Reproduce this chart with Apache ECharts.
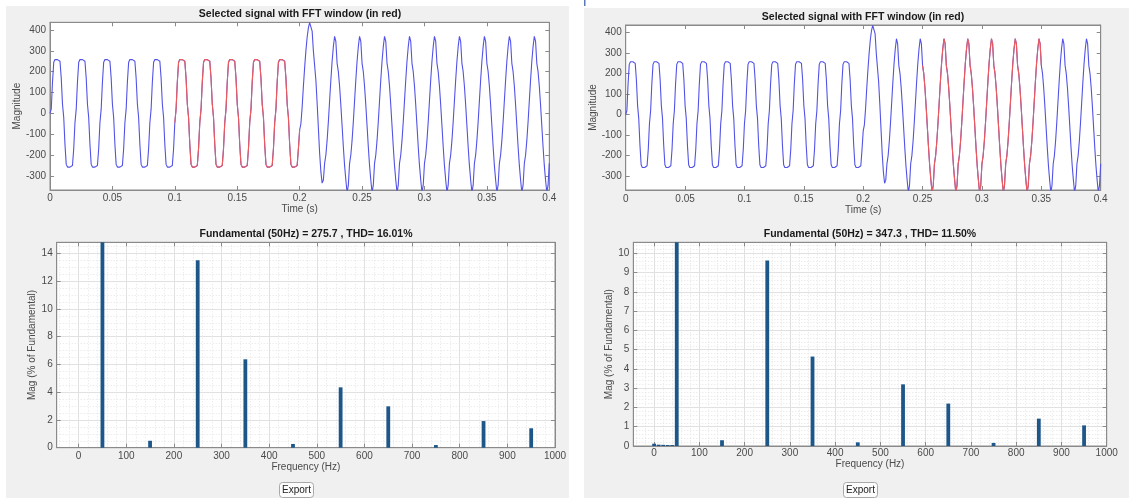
<!DOCTYPE html>
<html>
<head>
<meta charset="utf-8">
<script src="https://cdn.jsdelivr.net/npm/echarts@6/dist/echarts.min.js"></script>
<style>
html, body { margin: 0; padding: 0; background: #fff; }
#chart { width: 1129px; height: 498px; }
</style>
</head>
<body>
<div id="chart"></div>
<script>
// one period of each part of the signal, one sample per ms
const sampleStep = 0.001
const startValue = 0
const cycleBefore = [-45, 20, 150, 245, 258, 256, 258, 256, 250, 170, 45, -20, -150, -245, -258, -256, -258, -256, -250, -170]
const transientPart = [-80, -50, 30, 130, 220, 300, 365, 410, 435, 437, 395, 300, 230, 160, 50, -70, -190, -280, -335, -320]
const cycleAfter = [-240, -200, -130, -40, 60, 160, 250, 320, 370, 345, 240, 200, 130, 40, -60, -160, -250, -320, -380, -345]
const cyclesBefore = 10
const cyclesAfter = 9
const windowLeft = [0.1, 0.2]
const windowRight = [0.25, 0.35]

const timeTicks = [0, 0.05, 0.1, 0.15, 0.2, 0.25, 0.3, 0.35, 0.4]
const signalTicks = [-300, -200, -100, 0, 100, 200, 300, 400]

// harmonic spectrum, % of fundamental
const harmonicFreqs = [50, 150, 250, 350, 450, 550, 650, 750, 850, 950]
const magLeft = [100, 0.5, 13.5, 6.37, 0.27, 4.35, 2.98, 0.19, 1.92, 1.4]
const magRight = [100, 0.3, 9.62, 4.64, 0.19, 3.2, 2.2, 0.16, 1.42, 1.07]
const lowFreqsRight = [0, 10, 20, 30, 40]
const lowMagRight = [0.12, 0.07, 0.06, 0.05, 0.05]
const freqTicks = [0, 100, 200, 300, 400, 500, 600, 700, 800, 900, 1000]
const pctTicksLeft = [0, 2, 4, 6, 8, 10, 12, 14]
const pctTicksRight = [0, 1, 2, 3, 4, 5, 6, 7, 8, 9, 10]

const signalTitle = 'Selected signal with FFT window (in red)'
const fftTitleLeft = 'Fundamental (50Hz) = 275.7 , THD= 16.01%'
const fftTitleRight = 'Fundamental (50Hz) = 347.3 , THD= 11.50%'

const axisGray = '#8a8a8a'
const labelGray = '#4a4a4a'
const font = 'Liberation Sans, Arial, Helvetica, sans-serif'
const blue = '#5252e6'
const red = '#f05a5a'
const barColor = '#1d5789'

// build the time signal from the periods
let samples = [startValue].concat(cycleBefore.slice(1))
for (let c = 1; c < cyclesBefore; c++) samples = samples.concat(cycleBefore)
samples = samples.concat(transientPart)
for (let c = 0; c < cyclesAfter; c++) samples = samples.concat(cycleAfter)
samples.push(cycleAfter[0])
const signal = samples.map((v, i) => [+(i * sampleStep).toFixed(3), v])
const inWindow = w => signal.filter(p => p[0] >= w[0] - 1e-9 && p[0] <= w[1] + 1e-9)

const pairs = (xs, ys) => xs.map((x, i) => [x, ys[i]])

// minor grid positions between major ticks
function minorValues(from, to, step, major) {
  const out = []
  for (let v = from; v <= to + 1e-9; v += step) {
    const r = +v.toFixed(4)
    if (Math.abs(r / major - Math.round(r / major)) > 1e-6) out.push(r)
  }
  return out
}

const grids = [
  { left: 50, top: 22.3, width: 499.3, height: 167.7 },
  { left: 625.7, top: 25, width: 475, height: 165 },
  { left: 56.7, top: 242.3, width: 498.3, height: 205.4 },
  { left: 633.3, top: 242.3, width: 473.4, height: 203.7 }
].map(g => Object.assign(g, {
  show: true, backgroundColor: '#fff', borderColor: axisGray, borderWidth: 1,
  containLabel: false, outerBoundsMode: 'none'
}))

const xAxes = []
const yAxes = []
const plain = v => String(v)

function addAxes(g, x, y) {
  const tick = vals => ({ show: true, inside: true, length: 4, customValues: vals, lineStyle: { color: axisGray } })
  const line = { show: true, onZero: false, lineStyle: { color: axisGray } }
  const nameStyle = { color: labelGray, fontSize: 10, fontFamily: font }
  const xi = xAxes.length
  xAxes.push({
    gridIndex: g, type: 'value', position: 'bottom', min: x.min, max: x.max,
    axisLine: line, axisTick: tick(x.ticks),
    axisLabel: { customValues: x.ticks, formatter: plain, color: labelGray, fontSize: 10, fontFamily: font, margin: x.margin },
    splitLine: { show: !!x.grid, lineStyle: { color: '#e1e1e1', width: 1 } },
    name: x.name, nameLocation: 'middle', nameGap: x.nameGap, nameTextStyle: nameStyle
  })
  xAxes.push({
    gridIndex: g, type: 'value', position: 'top', min: x.min, max: x.max,
    axisLine: line, axisTick: tick(x.ticks), axisLabel: { show: false }, splitLine: { show: false }
  })
  if (x.grid) {
    xAxes.push({
      gridIndex: g, type: 'value', position: 'bottom', min: x.min, max: x.max,
      axisLine: { show: false }, axisTick: { show: false, customValues: x.minor },
      axisLabel: { show: false },
      splitLine: { show: true, lineStyle: { color: '#e4e4e4', type: [1, 2], width: 1 } }
    })
  }
  const yi = yAxes.length
  yAxes.push({
    gridIndex: g, type: 'value', position: 'left', min: y.min, max: y.max,
    axisLine: line, axisTick: tick(y.ticks),
    axisLabel: { customValues: y.ticks, formatter: plain, color: labelGray, fontSize: 10, fontFamily: font, margin: 4 },
    splitLine: { show: !!y.grid, lineStyle: { color: '#e1e1e1', width: 1 } },
    name: y.name, nameLocation: 'middle', nameGap: y.nameGap, nameTextStyle: nameStyle
  })
  yAxes.push({
    gridIndex: g, type: 'value', position: 'right', min: y.min, max: y.max,
    axisLine: line, axisTick: tick(y.ticks), axisLabel: { show: false }, splitLine: { show: false }
  })
  if (y.grid) {
    yAxes.push({
      gridIndex: g, type: 'value', position: 'left', min: y.min, max: y.max,
      axisLine: { show: false }, axisTick: { show: false, customValues: y.minor },
      axisLabel: { show: false },
      splitLine: { show: true, lineStyle: { color: '#e4e4e4', type: [1, 2], width: 1 } }
    })
  }
  return [xi, yi]
}

const sigX = { min: 0, max: 0.4, ticks: timeTicks, name: 'Time (s)' }
const sigY = { min: -368, max: 437, ticks: signalTicks, name: 'Magnitude' }
const fftX = { min: -46, max: 1000, ticks: freqTicks, name: 'Frequency (Hz)', grid: true, minor: minorValues(-40, 980, 20, 100) }

const a0 = addAxes(0, Object.assign({}, sigX, { margin: 3, nameGap: 13 }), Object.assign({}, sigY, { nameGap: 28 }))
const a1 = addAxes(1, Object.assign({}, sigX, { margin: 4, nameGap: 14 }), Object.assign({}, sigY, { nameGap: 26 }))
const a2 = addAxes(2, Object.assign({}, fftX, { margin: 4, nameGap: 14 }),
  { min: 0, max: 14.8, ticks: pctTicksLeft, name: 'Mag (% of Fundamental)', nameGap: 19, grid: true, minor: minorValues(0.5, 14.5, 0.5, 2) })
const a3 = addAxes(3, Object.assign({}, fftX, { margin: 2, nameGap: 13 }),
  { min: 0, max: 10.57, ticks: pctTicksRight, name: 'Mag (% of Fundamental)', nameGap: 18, grid: true, minor: minorValues(0.2, 10.4, 0.2, 1) })

const lineSeries = (axes, data, color) => ({
  type: 'line', xAxisIndex: axes[0], yAxisIndex: axes[1], data: data,
  showSymbol: false, symbol: 'none', clip: true,
  lineStyle: { color: color, width: 1.1 }, z: 3
})
const barSeries = (axes, data) => ({
  type: 'bar', xAxisIndex: axes[0], yAxisIndex: axes[1], data: data,
  barWidth: 3.8, clip: true, itemStyle: { color: barColor }, z: 3
})

const titleStyle = { fontSize: 10.5, fontWeight: 'bold', color: '#1a1a1a', fontFamily: font }
const title = [
  { text: signalTitle, left: 300, top: 9, textAlign: 'center', padding: 0, textStyle: titleStyle },
  { text: signalTitle, left: 863, top: 12, textAlign: 'center', padding: 0, textStyle: titleStyle },
  { text: fftTitleLeft, left: 306, top: 229, textAlign: 'center', padding: 0, textStyle: titleStyle },
  { text: fftTitleRight, left: 870, top: 229, textAlign: 'center', padding: 0, textStyle: titleStyle }
]

function exportButton(cx) {
  return {
    type: 'group', left: cx - 17, top: 482, z: 100,
    children: [
      { type: 'rect', shape: { x: 0, y: 0, width: 34, height: 15, r: 3 }, style: { fill: '#fcfcfc', stroke: '#a8a8a8', lineWidth: 1 } },
      { type: 'text', x: 17, y: 7.5, style: { text: 'Export', fill: '#222', font: '10px ' + font, align: 'center', verticalAlign: 'middle' } }
    ]
  }
}

const chart = echarts.init(document.getElementById('chart'), null, { renderer: 'canvas' })
chart.setOption({
  animation: false,
  backgroundColor: '#ffffff',
  title: title,
  grid: grids,
  xAxis: xAxes,
  yAxis: yAxes,
  graphic: [
    { type: 'rect', z: -100, shape: { x: 6, y: 6, width: 563, height: 492 }, style: { fill: '#f0f0f0' } },
    { type: 'rect', z: -100, shape: { x: 584, y: 8, width: 545, height: 490 }, style: { fill: '#f0f0f0' } },
    { type: 'rect', z: -99, shape: { x: 584, y: 0, width: 1.5, height: 6 }, style: { fill: '#5b78b8' } },
    exportButton(296),
    exportButton(860)
  ],
  series: [
    lineSeries(a0, signal, blue),
    lineSeries(a0, inWindow(windowLeft), red),
    lineSeries(a1, signal, blue),
    lineSeries(a1, inWindow(windowRight), red),
    barSeries(a2, pairs(harmonicFreqs, magLeft)),
    barSeries(a3, pairs(lowFreqsRight, lowMagRight).concat(pairs(harmonicFreqs, magRight)))
  ]
})
</script>
</body>
</html>
